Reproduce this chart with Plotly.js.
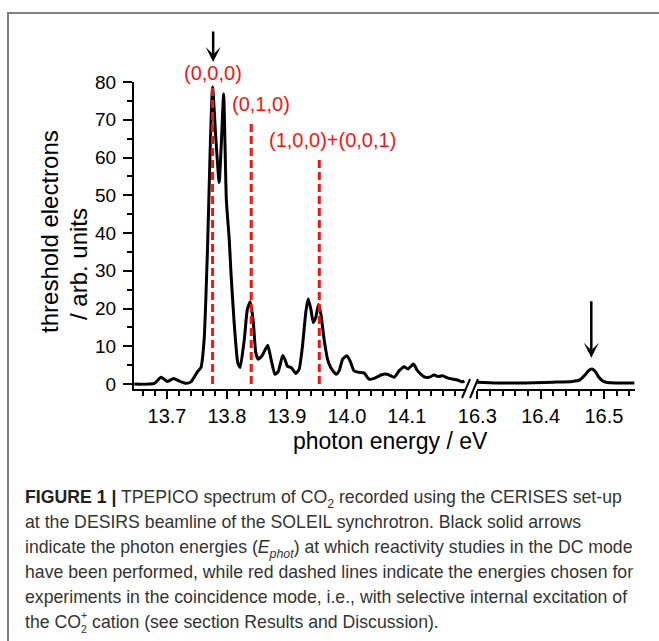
<!DOCTYPE html>
<html><head><meta charset="utf-8">
<script src="https://cdn.plot.ly/plotly-3.0.1.min.js"></script>
<style>
html,body{margin:0;padding:0;background:#fff;overflow:hidden;width:659px;height:641px;}
#frame{position:absolute;left:7px;top:12px;width:700px;height:700px;border:2px solid #808080;}
#chart{position:absolute;left:0;top:0;width:659px;height:641px;}
#caption{position:absolute;left:25px;top:484px;font-family:"Liberation Sans Narrow","Arial Narrow","Liberation Sans",sans-serif;font-size:19px;line-height:25px;color:#333;white-space:nowrap;transform:scaleX(0.93);transform-origin:0 0;}
#caption b{color:#222;}
.st{display:inline-block;font-size:0.6em;line-height:1.2em;vertical-align:-0.45em;text-align:left;}
sub{font-size:0.7em;line-height:0;}
</style></head>
<body>
<div id="frame"></div>
<div id="chart"></div>
<div id="caption"><b>FIGURE 1 |</b> TPEPICO spectrum of CO<sub>2</sub> recorded using the CERISES set-up<br>at the DESIRS beamline of the SOLEIL synchrotron. Black solid arrows<br>indicate the photon energies (<i>E<sub>phot</sub></i>) at which reactivity studies in the DC mode<br>have been performed, while red dashed lines indicate the energies chosen for<br>experiments in the coincidence mode, i.e., with selective internal excitation of<br>the CO<span class="st">+<br>2</span> cation (see section Results and Discussion).</div>
<script>
// Low-energy segment of the spectrum (eV, arb. units)
const energyLow = [13.6455,13.679,13.690,13.701,13.711,13.7205,13.732,13.740,13.751,13.7567,13.762,13.768,13.772,13.776,13.7815,13.787,13.791,13.7945,13.799,13.8038,13.8067,13.812,13.818,13.822,13.829,13.834,13.839,13.844,13.848,13.852,13.859,13.868,13.873,13.880,13.8855,13.893,13.897,13.901,13.907,13.915,13.9205,13.926,13.9317,13.9355,13.940,13.944,13.948,13.9527,13.9567,13.962,13.9677,13.973,13.982,13.987,13.993,14.000,14.0055,14.012,14.0205,14.029,14.037,14.0455,14.0567,14.065,14.0705,14.079,14.087,14.0955,14.102,14.111,14.118,14.129,14.137,14.1455,14.152,14.159,14.1705,14.1845,14.1927,14.196];
const signalLow = [0.0,0.2,1.8,0.7,1.5,0.8,0.2,0.6,3.3,4.4,11.9,38,62,78.7,65,53.4,65,76.8,48.8,38.3,29.5,16.3,5.7,4.4,11.9,19.8,21.8,16.3,8.4,6.6,7.6,10.3,7.0,2.6,3.3,7.6,6.4,4.7,4.4,2.8,4.0,10.1,19.3,22.6,19.8,16.3,17.6,21.1,18.5,11.9,6.6,4.4,2.6,3.5,6.6,7.5,6.1,3.5,3.1,2.9,1.3,1.5,2.4,2.7,2.4,1.8,3.5,4.6,4.0,5.3,3.5,1.9,1.8,2.4,2.0,2.2,1.5,1.1,0.6,0.8];
// High-energy segment
const energyHigh = [16.300,16.33,16.36,16.39,16.42,16.45,16.462,16.47,16.476,16.481,16.486,16.492,16.498,16.505,16.52,16.548];
const signalHigh = [0.5,0.3,0.3,0.35,0.5,0.7,1.1,2.4,3.6,4.0,3.4,1.8,0.8,0.4,0.3,0.3];
// Red dashed lines (coincidence-mode energies)
const lineEnergies = [13.776, 13.8405, 13.954];
const lineTops = [78.6, 69.9, 59.9];
const lineLabels = ['(0,0,0)', '(0,1,0)', '(1,0,0)+(0,0,1)'];
const labelEnergies = [13.776, 13.857, 13.9755];
const labelHeights = [82.3, 74.3, 64.6];
// Black arrows (DC-mode energies)
const arrowEnergies = [13.777, 16.48];
const arrowAxes = ['x', 'x2'];
const arrowTips = [85.3, 7.0];
const arrowLengths = [32, 58];

const FONT = '"Liberation Sans", Arial, sans-serif';
const Y_MIN = -1.3, Y_MAX = 80;
const toPaperY = v => (v - Y_MIN) / (Y_MAX - Y_MIN);

const traces = [
  {x: energyLow, y: signalLow, xaxis: 'x', yaxis: 'y', mode: 'lines',
   line: {color: 'black', width: 3, shape: 'spline', smoothing: 0.5}},
  {x: energyHigh, y: signalHigh, xaxis: 'x2', yaxis: 'y', mode: 'lines',
   line: {color: 'black', width: 3, shape: 'spline', smoothing: 0.5}}
];
lineEnergies.forEach((e, i) => {
  traces.push({x: [e, e], y: [0, lineTops[i]], xaxis: 'x', yaxis: 'y', mode: 'lines',
    line: {color: '#ff1010', width: 3, dash: '8px,4px'}});
});

const annotations = [];
lineLabels.forEach((t, i) => {
  annotations.push({x: labelEnergies[i], y: toPaperY(labelHeights[i]), xref: 'x', yref: 'paper', text: t,
    showarrow: false, xanchor: 'center', yanchor: 'middle',
    font: {family: FONT, size: 20, color: '#ff1010'}});
});
arrowEnergies.forEach((e, i) => {
  annotations.push({x: e, y: toPaperY(arrowTips[i]), xref: arrowAxes[i], yref: 'paper', text: '',
    showarrow: true, ax: 0, ay: -arrowLengths[i], arrowhead: 3, arrowsize: 1, arrowwidth: 2.5,
    arrowcolor: 'black', standoff: 0});
});
// axis titles
annotations.push({x: -0.1677, y: 0.5147, xref: 'paper', yref: 'paper', text: 'threshold electrons',
  textangle: -90, showarrow: false, xanchor: 'center', yanchor: 'middle', font: {family: FONT, size: 24, color: 'black'}});
annotations.push({x: -0.1118, y: 0.407, xref: 'paper', yref: 'paper', text: '/ arb. units',
  textangle: -90, showarrow: false, xanchor: 'center', yanchor: 'middle', font: {family: FONT, size: 24, color: 'black'}});
annotations.push({x: 0.511, y: -0.168, xref: 'paper', yref: 'paper', text: 'photon energy / eV',
  showarrow: false, xanchor: 'center', yanchor: 'middle', font: {family: FONT, size: 23, color: 'black'}});

const axCommon = {showline: true, linewidth: 2, linecolor: 'black', showgrid: false, zeroline: false,
  ticks: 'outside', ticklen: 8, tickwidth: 2, tickcolor: 'black',
  tickfont: {family: FONT, size: 20, color: 'black'}, fixedrange: true};

const layout = {
  width: 659, height: 641,
  margin: {l: 134, r: 24, t: 82, b: 252},
  paper_bgcolor: 'rgba(0,0,0,0)', plot_bgcolor: 'rgba(0,0,0,0)',
  showlegend: false,
  xaxis: Object.assign({}, axCommon, {domain: [0, 0.6607], range: [13.645, 14.197], tick0: 13.7, dtick: 0.1,
    tickformat: '.1f', anchor: 'y',
    minor: {dtick: 0.02, tick0: 13.7, ticks: 'outside', ticklen: 5, tickwidth: 2, tickcolor: 'black'}}),
  xaxis2: Object.assign({}, axCommon, {domain: [0.6846, 1], range: [16.2995, 16.549], tick0: 16.3, dtick: 0.1,
    tickformat: '.1f', anchor: 'y',
    minor: {dtick: 0.02, tick0: 16.3, ticks: 'outside', ticklen: 5, tickwidth: 2, tickcolor: 'black'}}),
  yaxis: Object.assign({}, axCommon, {range: [Y_MIN, Y_MAX], tick0: 0, dtick: 10, ticklabelstandoff: 3,
    ticklen: 9, tickfont: {family: FONT, size: 19, color: 'black'},
    minor: {dtick: 5, ticks: 'outside', ticklen: 5, tickwidth: 2, tickcolor: 'black'}}),
  annotations: annotations,
  shapes: [
    {type: 'line', xref: 'paper', yref: 'paper', x0: 0.6547, y0: -0.0293, x1: 0.6707, y1: 0.0326, line: {color: 'black', width: 2}},
    {type: 'line', xref: 'paper', yref: 'paper', x0: 0.6707, y0: -0.0293, x1: 0.6866, y1: 0.0326, line: {color: 'black', width: 2}}
  ]
};
Plotly.newPlot('chart', traces, layout, {staticPlot: true, displayModeBar: false});
</script>
</body></html>
